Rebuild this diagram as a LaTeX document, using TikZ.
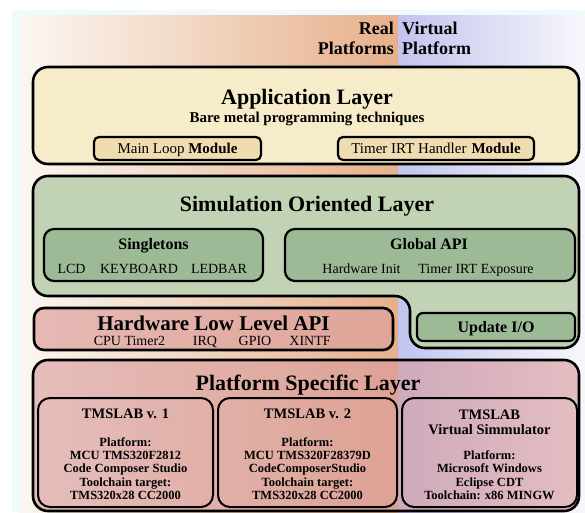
\documentclass[tikz,border=0pt]{standalone}
\usepackage{fontspec}
\setmainfont{Liberation Serif}
\definecolor{panelcyan}{HTML}{EEFAFC}
\definecolor{realL}{HTML}{FBF7F2}
\definecolor{realR}{HTML}{E6B08B}
\definecolor{virtL}{HTML}{C2C4EE}
\definecolor{virtR}{HTML}{F7F7FC}
\definecolor{appfill}{HTML}{F6ECCA}
\definecolor{modfill}{HTML}{EFDDB1}
\definecolor{simfill}{HTML}{C2D2B4}
\definecolor{simin}{HTML}{9DBA97}
\definecolor{hwfill}{HTML}{DDA09C}
\definecolor{platfill}{HTML}{D8999A}
\begin{document}
\begin{tikzpicture}[x=1pt,y=-1pt,
  layerbox/.style={draw=black, line width=2.6pt, rounded corners=15pt, inner sep=0pt},
  modbox/.style={draw=black, line width=2.2pt, rounded corners=5pt, fill=modfill, inner sep=0pt},
  simbox/.style={draw=black, line width=2.2pt, rounded corners=10pt, fill=simin, inner sep=0pt},
  platbox/.style={draw=black, line width=2pt, rounded corners=12pt, inner sep=0pt},
  txt/.style={inner sep=0pt, anchor=base},
  hdr/.style={txt, font=\fontsize{18}{20}\selectfont\bfseries},
  ttl/.style={txt, font=\fontsize{22}{24}\selectfont\bfseries},
  subttl/.style={txt, font=\fontsize{15}{17}\selectfont\bfseries},
  modtxt/.style={txt, font=\fontsize{15}{17}\selectfont},
  grphead/.style={txt, font=\fontsize{16}{18}\selectfont\bfseries},
  itemtxt/.style={txt, font=\fontsize{14}{16}\selectfont},
  pltitle/.style={txt, font=\fontsize{14.5}{16}\selectfont\bfseries},
  pltext/.style={txt, font=\fontsize{12.5}{13.3}\selectfont\bfseries},
]
\useasboundingbox (0,0) rectangle (585,512);
\fill[white] (0,0) rectangle (585,512);

% background panel: real platforms (left) and virtual platform (right)
\fill[panelcyan] (12,10) rectangle (585,512);
\shade[left color=realL, right color=realR] (19,15) rectangle (398,512);
\shade[left color=virtL, right color=virtR] (398,15) rectangle (585,512);

\node[hdr, anchor=base east] (realA) at (394,34) {Real};
\node[hdr, anchor=base east] (realB) at (394,54) {Platforms};
\node[hdr, anchor=base west] (virtA) at (402,34) {Virtual};
\node[hdr, anchor=base west] (virtB) at (402,54) {Platform};

% application layer
\node[layerbox, fill=appfill, minimum width=546pt, minimum height=97pt] (app) at (306,115.5) {};
\node[ttl] (appT) at (307,104) {Application Layer};
\node[subttl] (appS) at (307,122) {Bare metal programming techniques};
\node[modbox, minimum width=167pt, minimum height=23pt] (mainloop) at (177.5,148.5) {};
\node[modtxt] (mainloopT) at (177.5,153) {Main Loop \textbf{Module}};
\node[modbox, minimum width=196pt, minimum height=23pt] (timerirt) at (436,148.5) {};
\node[modtxt] (timerirtT) at (436,153) {Timer IRT Handler\hspace{5pt}\textbf{Module}};

% simulation oriented layer (L-shaped, reaching down for Update I/O)
\draw[black, line width=2.6pt, fill=simfill, rounded corners=15pt]
  (33,176) -- (579,176) -- (579,348) -- (410,348) -- (410,296) -- (33,296) -- cycle;
\node[ttl] (simT) at (307,211) {Simulation Oriented Layer};
\node[simbox, minimum width=219pt, minimum height=52pt] (single) at (153.5,255) {};
\node[grphead] (singleT) at (153.5,249) {Singletons};
\node[itemtxt] (lcd) at (71.5,273) {LCD};
\node[itemtxt] (kbd) at (139,273) {KEYBOARD};
\node[itemtxt] (ledbar) at (219,273) {LEDBAR};
\node[simbox, minimum width=290pt, minimum height=52pt] (gapi) at (430,255) {};
\node[grphead] (gapiT) at (429,249) {Global API};
\node[itemtxt] (hwinit) at (361.5,273) {Hardware Init};
\node[itemtxt] (irtexp) at (476,273) {Timer IRT Exposure};
\node[simbox, rounded corners=6pt, minimum width=158pt, minimum height=28pt] (upd) at (496,327) {};
\node[grphead] (updT) at (496,332) {Update I/O};

% hardware low level API
\node[layerbox, rounded corners=10pt, fill=hwfill, fill opacity=0.7, minimum width=359pt, minimum height=42pt] (hw) at (213.5,329) {};
\node[ttl, font=\fontsize{21}{23}\selectfont\bfseries] (hwT) at (213.5,330) {Hardware Low Level API};
\node[itemtxt] (cpu) at (129.5,345.5) {CPU Timer2};
\node[itemtxt] (irq) at (205,345.5) {IRQ};
\node[itemtxt] (gpio) at (255,345.5) {GPIO};
\node[itemtxt] (xintf) at (310,345.5) {XINTF};

% platform specific layer
\node[layerbox, fill=platfill, fill opacity=0.6, minimum width=546pt, minimum height=151pt] (plat) at (306,435.5) {};
\node[ttl] (platT) at (308,390) {Platform Specific Layer};

\node[platbox, minimum width=175pt, minimum height=109pt] (tms1) at (125.5,452.5) {};
\node[pltitle] (tms1T) at (125.5,418.5) {TMSLAB v. 1};
\node[pltext] (tms1a) at (125.5,446) {Platform:};
\node[pltext] (tms1b) at (125.5,459.3) {MCU TMS320F2812};
\node[pltext] (tms1c) at (125.5,472.6) {Code Composer Studio};
\node[pltext] (tms1d) at (125.5,486) {Toolchain target:};
\node[pltext] (tms1e) at (125.5,499.3) {TMS320x28 CC2000};

\node[platbox, minimum width=179pt, minimum height=109pt] (tms2) at (307.5,452.5) {};
\node[pltitle] (tms2T) at (307.5,418.5) {TMSLAB v. 2};
\node[pltext] (tms2a) at (307.5,446) {Platform:};
\node[pltext] (tms2b) at (307.5,459.3) {MCU TMS320F28379D};
\node[pltext] (tms2c) at (307.5,472.6) {CodeComposerStudio};
\node[pltext] (tms2d) at (307.5,486) {Toolchain target:};
\node[pltext] (tms2e) at (307.5,499.3) {TMS320x28 CC2000};

\node[platbox, minimum width=175pt, minimum height=109pt] (vsim) at (489.5,452.5) {};
\node[pltitle] (vsimT) at (489.5,419) {TMSLAB};
\node[pltitle] (vsimU) at (489.5,434) {Virtual Simmulator};
\node[pltext] (vsima) at (489.5,459.3) {Platform:};
\node[pltext] (vsimb) at (489.5,472.6) {Microsoft Windows};
\node[pltext] (vsimc) at (489.5,486) {Eclipse CDT};
\node[pltext] (vsimd) at (489.5,499.3) {Toolchain: x86 MINGW};
\end{tikzpicture}
\end{document}
